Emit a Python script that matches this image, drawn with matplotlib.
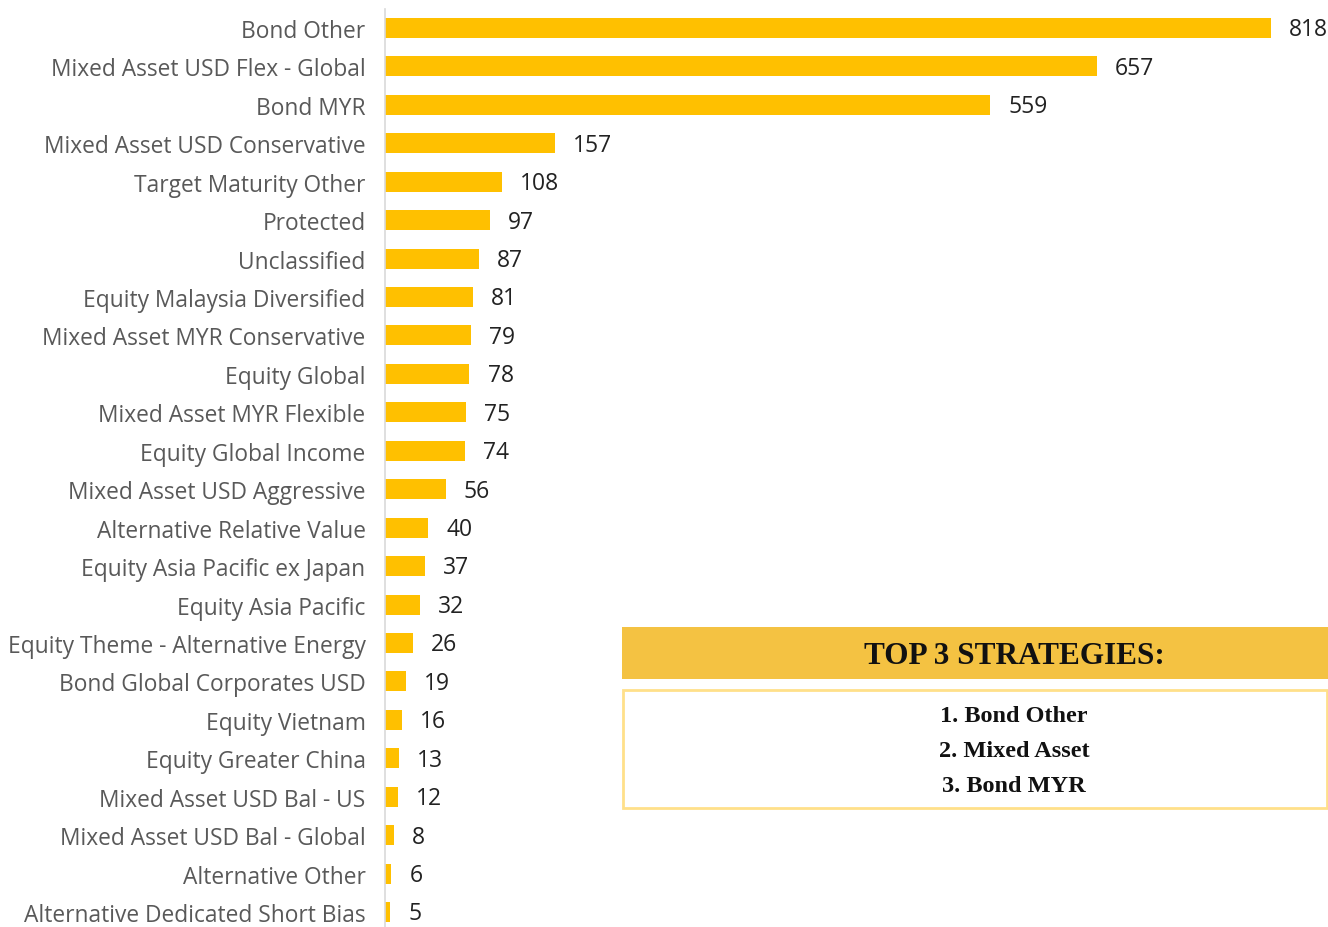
import matplotlib
matplotlib.use("Agg")
import matplotlib.pyplot as plt
from matplotlib.patches import Rectangle

# Data
categories = [
    "Bond Other", "Mixed Asset USD Flex - Global", "Bond MYR",
    "Mixed Asset USD Conservative", "Target Maturity Other", "Protected",
    "Unclassified", "Equity Malaysia Diversified", "Mixed Asset MYR Conservative",
    "Equity Global", "Mixed Asset MYR Flexible", "Equity Global Income",
    "Mixed Asset USD Aggressive", "Alternative Relative Value",
    "Equity Asia Pacific ex Japan", "Equity Asia Pacific",
    "Equity Theme - Alternative Energy", "Bond Global Corporates USD",
    "Equity Vietnam", "Equity Greater China", "Mixed Asset USD Bal - US",
    "Mixed Asset USD Bal - Global", "Alternative Other",
    "Alternative Dedicated Short Bias",
]
counts = [818, 657, 559, 157, 108, 97, 87, 81, 79, 78, 75, 74, 56, 40, 37, 32,
          26, 19, 16, 13, 12, 8, 6, 5]
top3_title = "TOP 3 STRATEGIES:"
top3 = ["1. Bond Other", "2. Mixed Asset", "3. Bond MYR"]

W, H = 1328, 928
fig = plt.figure(figsize=(W / 100, H / 100), dpi=100)

# bar chart area
ax = fig.add_axes([385 / W, 0, (W - 385) / W, (928 - 10) / H])
ypos = list(range(len(categories)))
bars = ax.barh(ypos, counts, height=0.52, color="#FFC000")
ax.set_xlim(0, (W - 385) / 1.083)
ax.set_ylim(23.39, -0.494)
ax.set_yticks(ypos)
ax.set_yticklabels(categories, fontfamily="Open Sans", fontsize=16.4,
                   color="#595959")
ax.tick_params(axis="y", length=0, pad=14)
ax.set_xticks([])
for s in ["top", "right", "bottom"]:
    ax.spines[s].set_visible(False)
ax.spines["left"].set_color("#d9d9d9")
ax.spines["left"].set_linewidth(1.2)

# value labels
for y, c in zip(ypos, counts):
    ax.annotate(str(c), (c, y), xytext=(13, -1), textcoords="offset points",
                ha="left", va="center", fontfamily="Open Sans", fontsize=16.5,
                color="#222222")

# top 3 box
fig.patches.append(Rectangle((622 / W, 1 - 680 / H), (W - 622) / W, 52 / H,
                             transform=fig.transFigure, facecolor="#F4C242",
                             edgecolor="none"))
fig.patches.append(Rectangle((623 / W, 1 - 809 / H), (W - 624) / W, 118 / H,
                             transform=fig.transFigure, facecolor="white",
                             edgecolor="#FFE08A", linewidth=2))
cx = 1014 / W
fig.text(cx, 1 - 657 / H, top3_title, ha="center", va="center",
         fontfamily="Liberation Serif", fontweight="bold", fontsize=22.5,
         color="#111111")
for i, t in enumerate(top3):
    fig.text(cx, 1 - (717 + 35 * i) / H, t, ha="center", va="center",
             fontfamily="Liberation Serif", fontweight="bold", fontsize=17.5,
             color="#111111")

fig.savefig("out.png", dpi=100)
